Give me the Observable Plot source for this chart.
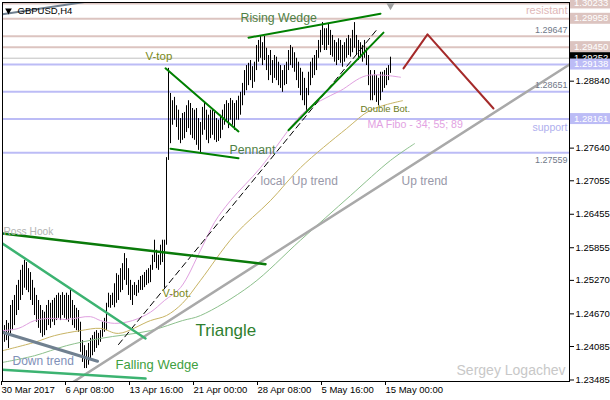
<!DOCTYPE html>
<html><head><meta charset="utf-8">
<script src="https://cdn.jsdelivr.net/npm/d3@7"></script>
<script src="https://cdn.jsdelivr.net/npm/@observablehq/plot@0.6"></script>
<style>body{margin:0;background:#fff} svg text{white-space:pre}</style>
</head><body><div id="chart"></div>
<script>
// H4 bars (index 0 = 30 Mar 2017 00:00), high / low prices
const highs = [
1.2452,1.2446,1.2455,1.2450,1.2482,1.2491,1.2500,1.2518,1.2527,1.2545,
1.2554,1.2563,1.2559,1.2548,1.2541,1.2527,1.2513,1.2500,1.2491,1.2482,
1.2473,1.2470,1.2482,1.2491,1.2486,1.2491,1.2495,1.2500,1.2504,1.2500,
1.2505,1.2500,1.2504,1.2500,1.2509,1.2491,1.2482,1.2477,1.2473,1.2452,
1.2419,1.2410,1.2401,1.2414,1.2423,1.2428,1.2434,1.2437,1.2432,1.2437,
1.2452,1.2459,1.2486,1.2504,1.2500,1.2504,1.2521,1.2539,1.2536,1.2548,
1.2557,1.2575,1.2566,1.2548,1.2527,1.2518,1.2523,1.2518,1.2527,1.2534,
1.2536,1.2541,1.2545,1.2548,1.2554,1.2572,1.2599,1.2581,1.2572,1.2590,
1.2599,1.2599,1.2747,1.2907,1.2862,1.2849,1.2855,1.2840,1.2832,1.2817,
1.2826,1.2828,1.2840,1.2849,1.2844,1.2835,1.2832,1.2835,1.2817,1.2810,
1.2837,1.2844,1.2832,1.2823,1.2832,1.2832,1.2828,1.2817,1.2814,1.2823,
1.2832,1.2842,1.2849,1.2844,1.2853,1.2849,1.2844,1.2849,1.2857,1.2864,
1.2880,1.2903,1.2912,1.2916,1.2921,1.2910,1.2918,1.2948,1.2957,1.2964,
1.2953,1.2964,1.2943,1.2930,1.2939,1.2921,1.2930,1.2927,1.2918,1.2912,
1.2903,1.2912,1.2918,1.2939,1.2948,1.2944,1.2935,1.2925,1.2918,1.2907,
1.2900,1.2889,1.2871,1.2900,1.2918,1.2925,1.2930,1.2939,1.2957,1.2975,
1.2989,1.2978,1.2978,1.2987,1.2975,1.2966,1.2957,1.2953,1.2960,1.2957,
1.2948,1.2953,1.2960,1.2966,1.2960,1.2975,1.2989,1.2966,1.2957,1.2953,
1.2948,1.2957,1.2943,1.2930,1.2903,1.2894,1.2903,1.2894,1.2889,1.2900,
1.2900,1.2903,1.2907,1.2912,1.2927];
const lows = [
1.2410,1.2416,1.2419,1.2405,1.2428,1.2437,1.2446,1.2464,1.2473,1.2491,
1.2500,1.2513,1.2509,1.2505,1.2491,1.2482,1.2464,1.2452,1.2441,1.2432,
1.2425,1.2428,1.2437,1.2446,1.2441,1.2452,1.2446,1.2455,1.2459,1.2455,
1.2464,1.2459,1.2455,1.2452,1.2459,1.2446,1.2441,1.2437,1.2434,1.2398,
1.2380,1.2369,1.2369,1.2375,1.2387,1.2392,1.2398,1.2405,1.2410,1.2416,
1.2425,1.2434,1.2437,1.2478,1.2477,1.2482,1.2478,1.2486,1.2491,1.2505,
1.2509,1.2527,1.2518,1.2500,1.2491,1.2482,1.2500,1.2498,1.2504,1.2509,
1.2509,1.2514,1.2518,1.2521,1.2523,1.2545,1.2559,1.2548,1.2545,1.2554,
1.2559,1.2513,1.2590,1.2742,1.2772,1.2805,1.2814,1.2801,1.2778,1.2772,
1.2778,1.2781,1.2792,1.2799,1.2787,1.2781,1.2778,1.2769,1.2760,1.2756,
1.2787,1.2796,1.2778,1.2772,1.2781,1.2787,1.2778,1.2774,1.2776,1.2781,
1.2796,1.2805,1.2810,1.2799,1.2814,1.2805,1.2796,1.2814,1.2814,1.2823,
1.2840,1.2858,1.2867,1.2876,1.2885,1.2871,1.2882,1.2903,1.2918,1.2925,
1.2912,1.2921,1.2903,1.2885,1.2894,1.2880,1.2889,1.2885,1.2876,1.2871,
1.2864,1.2876,1.2878,1.2903,1.2912,1.2907,1.2900,1.2885,1.2871,1.2858,
1.2849,1.2840,1.2826,1.2858,1.2876,1.2889,1.2894,1.2903,1.2925,1.2935,
1.2948,1.2939,1.2939,1.2948,1.2930,1.2927,1.2918,1.2912,1.2921,1.2916,
1.2909,1.2918,1.2925,1.2930,1.2927,1.2935,1.2943,1.2930,1.2921,1.2925,
1.2918,1.2925,1.2912,1.2876,1.2849,1.2849,1.2858,1.2846,1.2840,1.2849,
1.2864,1.2871,1.2876,1.2885,1.2898];

const xTickBars = [0, 32, 64, 96, 128, 160, 192];
const xTickLabels = ["30 Mar 2017", "6 Apr 08:00", "13 Apr 16:00", "21 Apr 00:00", "28 Apr 08:00", "5 May 16:00", "15 May 00:00"];
const yTicks = [1.28840, 1.27640, 1.27055, 1.26455, 1.25855, 1.25270, 1.24670, 1.24085, 1.23485];

const resistLevels = [1.30233, 1.29958, 1.29647, 1.29450];
const supportLevels = [1.29138, 1.28651, 1.28161, 1.27559];
const bidPrice = 1.29252;
const axisMarked = [1.30233, 1.29958, 1.29450, 1.29252, 1.29138, 1.28161];

// Moving averages (MA Fibo 34, 55, 89), read at sample bars
const ma34Bars = [0, 8, 16, 24, 32, 44, 49, 56, 65, 74, 81, 89, 99, 106, 114, 129, 144, 150, 159, 169, 182, 199];
const ma34 = [1.2437, 1.2441, 1.2455, 1.2459, 1.2457, 1.2462, 1.2455, 1.2450, 1.2455, 1.2470, 1.2491, 1.2514, 1.2581, 1.2631, 1.2670, 1.2729, 1.2801, 1.2826, 1.2849, 1.2867, 1.2894, 1.2891];
const ma55Bars = [0, 16, 26, 39, 49, 58, 74, 82, 90, 99, 116, 134, 149, 172, 184, 200];
const ma55 = [1.2401, 1.2416, 1.2428, 1.2437, 1.2441, 1.2432, 1.2455, 1.2464, 1.2486, 1.2527, 1.2608, 1.2670, 1.2729, 1.2799, 1.2832, 1.2849];
const ma89Bars = [0, 16, 32, 49, 74, 90, 99, 124, 149, 174, 194, 206];
const ma89 = [1.2380, 1.2392, 1.2410, 1.2423, 1.2437, 1.2455, 1.2464, 1.2518, 1.2599, 1.2679, 1.2742, 1.2772];

// Drawn trend lines: bar indexes and prices of their end points
const topLeftBars = [0, 45], topLeftPrices = [1.3004, 1.3028];
const downTrendBars = [0, 47.5], downTrendPrices = [1.2434, 1.2382];
const fallUpBars = [0, 71.5], fallUpPrices = [1.2593, 1.2423];
const fallLoBars = [0, 71.5], fallLoPrices = [1.2367, 1.2351];
const rossBars = [0, 131.5], rossPrices = [1.2611, 1.2556];
const vTopBars = [81.5, 118], vTopPrices = [1.2907, 1.2794];
const pennantBars = [84, 118], pennantPrices = [1.2763, 1.2746];
const wedgeUpBars = [123, 189], wedgeUpPrices = [1.2962, 1.3005];
const wedgeLoBars = [143, 190.5], wedgeLoPrices = [1.2796, 1.2971];
const localUpBars = [58, 188], localUpPrices = [1.2412, 1.2980];
const upTrendBars = [35, 283.5], upTrendPrices = [1.2344, 1.2914];
const forecastBars = [200.5, 212.5, 245.5], forecastPrices = [1.2907, 1.2968, 1.2835];

// Text notes
const noteTexts = ["V-top", "V-bot.", "Pennant", "Rising Wedge", "Double Bot.", "MA Fibo - 34; 55; 89", "local  Up trend", "Up trend", "Ross Hook", "Triangle", "Down trend", "Falling Wedge"];
const noteBars = [71.5, 80, 113.5, 119, 179, 182.5, 129, 199.5, 0.5, 96.5, 5, 56.5];
const notePrices = [1.2928, 1.2504, 1.2761, 1.2998, 1.2835, 1.2806, 1.2704, 1.2704, 1.2615, 1.2437, 1.2382, 1.2376];
const levelNoteTexts = ["resistant", "1.29647", "1.28651", "support", "1.27559"];
const levelNotePrices = [1.29958, 1.29647, 1.28651, 1.28161, 1.27559];

// ---------- drawing ----------
const font = "Liberation Sans, Arial, sans-serif";
const bars = highs.map((h, i) => ({bar: i, high: h, low: lows[i]}));
const pts = (b, p) => b.map((v, k) => ({bar: v, price: p[k]}));
const seg = (b, p, o) => Plot.line(pts(b, p), {x: "bar", y: "price", clip: true, ...o});

const noteStyles = [
  {fill: "#7a8a20", fontSize: 11.5},
  {fill: "#7a8a20", fontSize: 11},
  {fill: "#4f7f45", fontSize: 12.3},
  {fill: "#4f7f45", fontSize: 12.3},
  {fill: "#6b7b20", fontSize: 9.5},
  {fill: "#e2a2e2", fontSize: 10.6},
  {fill: "#9898a8", fontSize: 12},
  {fill: "#9898a8", fontSize: 12},
  {fill: "#b4b4b4", fontSize: 10.2},
  {fill: "#2f7f2f", fontSize: 17},
  {fill: "#8090b8", fontSize: 12},
  {fill: "#3f9f3f", fontSize: 13}
];
const noteMarks = noteTexts.map((t, k) => Plot.text([t], {
  x: [noteBars[k]], y: [notePrices[k]], text: d => d,
  textAnchor: "start", lineAnchor: "middle", ...noteStyles[k]
}));
const levelStyles = [
  {fill: "#e0b8b8", fontSize: 11, dy: -8},
  {fill: "#707888", fontSize: 9, dy: -6},
  {fill: "#707888", fontSize: 9, dy: -7},
  {fill: "#b0b0ee", fontSize: 10.5, dy: 9},
  {fill: "#707888", fontSize: 9, dy: 7}
];
const levelMarks = levelNoteTexts.map((t, k) => Plot.text([t], {
  y: [levelNotePrices[k]], text: d => d, frameAnchor: "right", dx: -2,
  textAnchor: "end", lineAnchor: "middle", ...levelStyles[k]
}));

const chart = Plot.plot({
  width: 610, height: 400,
  marginLeft: 2, marginRight: 41, marginTop: 2, marginBottom: 19,
  x: {domain: [0, 283.5], axis: null},
  y: {domain: [1.23458, 1.3025], axis: null},
  style: {fontFamily: font, fontSize: "9.5px", background: "white", color: "black", overflow: "visible"},
  marks: [
    Plot.ruleY(resistLevels, {stroke: "#dcc4c0", strokeWidth: 2}),
    Plot.ruleY([bidPrice], {stroke: "#c0c0c0", strokeWidth: 1}),
    Plot.ruleY(supportLevels, {stroke: "#bcbcf6", strokeWidth: 2}),
    Plot.ruleX(bars, {x: "bar", y1: "low", y2: "high", stroke: "black", strokeWidth: 1}),
    seg(ma34Bars, ma34, {stroke: "#e0a0e0", strokeWidth: 1, curve: "catmull-rom"}),
    seg(ma55Bars, ma55, {stroke: "#c8b464", strokeWidth: 1, curve: "catmull-rom"}),
    seg(ma89Bars, ma89, {stroke: "#8cc08c", strokeWidth: 1, curve: "catmull-rom"}),
    seg(upTrendBars, upTrendPrices, {stroke: "#a9a9a9", strokeWidth: 2.5}),
    seg(localUpBars, localUpPrices, {stroke: "black", strokeWidth: 1, strokeDasharray: "6,4"}),
    seg(topLeftBars, topLeftPrices, {stroke: "#708090", strokeWidth: 2}),
    seg(downTrendBars, downTrendPrices, {stroke: "#708090", strokeWidth: 3}),
    seg(fallUpBars, fallUpPrices, {stroke: "#3cb371", strokeWidth: 2.5}),
    seg(fallLoBars, fallLoPrices, {stroke: "#3cb371", strokeWidth: 2.5}),
    seg(rossBars, rossPrices, {stroke: "#0a7a0a", strokeWidth: 2.5}),
    seg(vTopBars, vTopPrices, {stroke: "#008000", strokeWidth: 2}),
    seg(pennantBars, pennantPrices, {stroke: "#008000", strokeWidth: 2}),
    seg(wedgeUpBars, wedgeUpPrices, {stroke: "#008000", strokeWidth: 2}),
    seg(wedgeLoBars, wedgeLoPrices, {stroke: "#008000", strokeWidth: 2}),
    seg(forecastBars, forecastPrices, {stroke: "#a52a2a", strokeWidth: 2}),
    ...noteMarks,
    ...levelMarks,
    Plot.text(["Sergey Logachev"], {frameAnchor: "bottom-right", dx: -4, dy: -11, textAnchor: "end", lineAnchor: "middle", fill: "#c8c8c8", fontSize: 14}),
    Plot.text(["GBPUSD,H4"], {frameAnchor: "top-left", dx: 15, dy: 8, textAnchor: "start", lineAnchor: "middle", fill: "black", fontSize: 9.5}),
    Plot.dot([0], {frameAnchor: "top-left", dx: 6, dy: 8, symbol: "triangle", rotate: 180, r: 2.5, fill: "black", stroke: null}),
    Plot.dot([0], {x: [highs.length - 1], frameAnchor: "top", dy: 3, symbol: "triangle", rotate: 180, r: 3, fill: "#a0a0a0", stroke: null}),
    Plot.frame({stroke: "black"}),
    Plot.axisX(xTickBars, {anchor: "bottom", label: null, tickSize: 4, tickPadding: 1, textAnchor: "start", dx: -1,
      tickFormat: d => xTickLabels[xTickBars.indexOf(d)]}),
    Plot.axisY(yTicks, {anchor: "right", label: null, tickSize: 4, tickPadding: 2, tickFormat: d3.format(".5f")})
  ]
});

// highlighted price labels on the right axis
const ys = chart.scale("y");
const fills = {1.30233: "#dcc4c0", 1.29958: "#dcc4c0", 1.29450: "#dcc4c0", 1.29252: "#000000", 1.29138: "#bcbcf6", 1.28161: "#bcbcf6"};
const g = d3.select(chart).append("g")
  .attr("font-family", font).attr("font-size", "9.5px").attr("text-anchor", "start");
axisMarked.forEach(v => {
  const yy = ys.apply(v);
  g.append("rect").attr("x", 570).attr("y", yy - 5.5).attr("width", 40).attr("height", 11).attr("fill", fills[v]);
  g.append("text").attr("x", 574).attr("y", yy).attr("dy", "0.32em")
    .attr("text-anchor", "start").attr("fill", "white").text(d3.format(".5f")(v));
});

document.getElementById("chart").appendChild(chart);
</script>
</body></html>
